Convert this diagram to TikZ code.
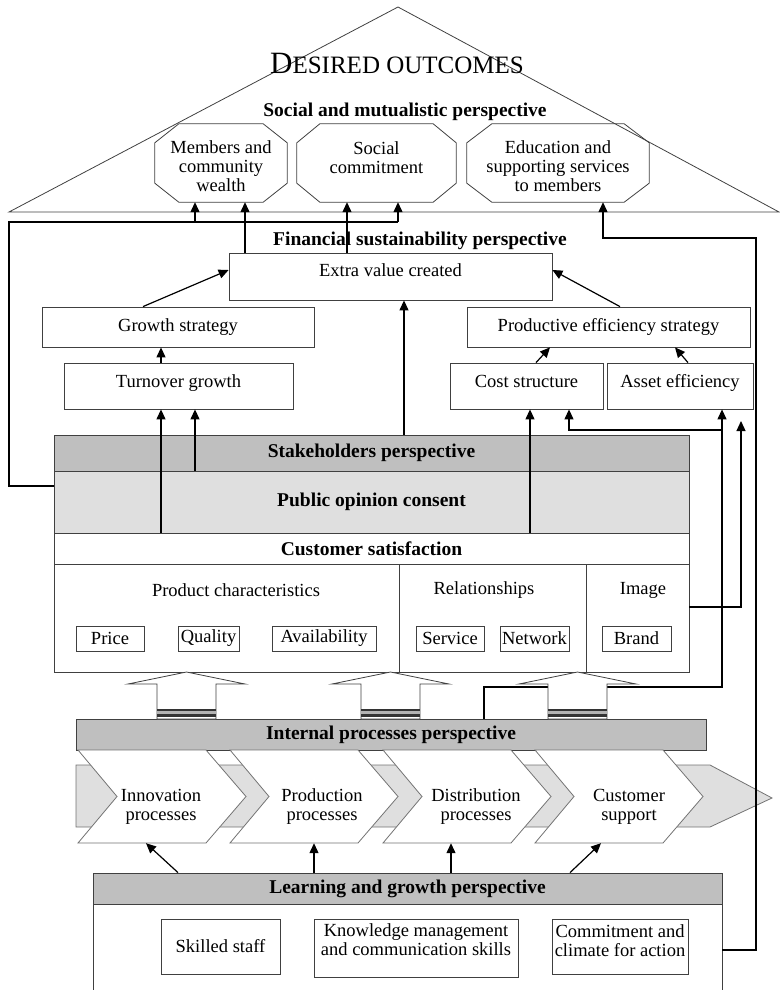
\documentclass[tikz,border=0pt]{standalone}
\usepackage{fontspec}
\setmainfont{Liberation Serif}
\usetikzlibrary{arrows.meta,calc}

% octagon round a named node, #2 = horizontal cut, #3 = vertical cut
\newcommand{\octa}[3]{%
  \draw[black!75,line width=0.8pt] ($(#1.north west)+(#2,0)$) -- ($(#1.north east)+(-#2,0)$)
    -- ($(#1.north east)+(0,#3)$) -- ($(#1.south east)+(0,-#3)$) -- ($(#1.south east)+(-#2,0)$)
    -- ($(#1.south west)+(#2,0)$) -- ($(#1.south west)+(0,-#3)$) -- ($(#1.north west)+(0,#3)$) -- cycle;}

\begin{document}
\begin{tikzpicture}[x=1pt,y=-1pt,
    every node/.style={font=\fontsize{18.5}{19}\selectfont},
    box/.style={draw=black!75,line width=0.8pt,fill=white,align=center,inner sep=1pt},
    hdr/.style={box,fill=gray!50,font=\fontsize{19.5}{19}\selectfont\bfseries},
    bold/.style={font=\fontsize{19.5}{19}\selectfont\bfseries},
    arr/.style={-{Triangle[length=10pt,width=9pt]},line width=1.2pt},
    wire/.style={line width=1.2pt},
    chev/.style={draw=black!55,line width=0.8pt,fill=white}]
\useasboundingbox (0,0) rectangle (779,990);

% roof
\draw[black!75,line width=0.8pt] (9,212) -- (398,7) -- (779,212) -- cycle;
\node (title) at (397,63) {\fontsize{31}{31}\selectfont D\fontsize{25}{25}\selectfont ESIRED OUTCOMES};
\node[bold] (smp) at (405,112) {Social and mutualistic perspective};

\node[inner sep=0pt,minimum width=132pt,minimum height=78pt] (mcw) at (221,163) {};
\node[inner sep=0pt,minimum width=159pt,minimum height=78pt] (sc) at (376.5,163) {};
\node[inner sep=0pt,minimum width=182pt,minimum height=78pt] (edu) at (558,163) {};
\octa{mcw}{24}{19}
\octa{sc}{23}{19}
\octa{edu}{25}{19}
\node[align=center] (mcwt) at ($(mcw)+(0,3)$) {Members and\\community\\wealth};
\node[align=center] (sct) at ($(sc)+(0,-5)$) {Social\\commitment};
\node[align=center] (edut) at ($(edu)+(0,3)$) {Education and\\supporting services\\to members};

% financial
\node[bold] (fsp) at (420,241) {Financial sustainability perspective};
\node[box,minimum width=323pt,minimum height=47pt,text height=12pt,text depth=12pt] (ev) at (390.5,276.5) {Extra value created};
\node[box,minimum width=272pt,minimum height=40pt] (gs) at (178,327) {Growth strategy};
\node[box,minimum width=283pt,minimum height=40pt] (pes) at (608.5,327) {Productive efficiency strategy};
\node[box,minimum width=229pt,minimum height=46pt,text height=12pt,text depth=10pt] (tg) at (178.5,386) {Turnover growth};
\node[box,minimum width=153pt,minimum height=46pt,text height=12pt,text depth=10pt] (cs) at (526.5,386) {Cost structure};
\node[box,minimum width=146pt,minimum height=46pt,text height=12pt,text depth=10pt] (ae) at (680,386) {Asset efficiency};

% stakeholders
\node[hdr,minimum width=635pt,minimum height=36pt] (sh) at (371.5,453) {Stakeholders perspective};
\node[hdr,fill=gray!25,minimum width=635pt,minimum height=62pt] (poc) at (371.5,502) {Public opinion consent};
\node[box,bold,minimum width=635pt,minimum height=31pt] (csat) at (371.5,548.5) {Customer satisfaction};
\node[box,minimum width=345pt,minimum height=108pt] (pc) at (226.5,618) {};
\node[box,minimum width=187pt,minimum height=108pt] (rel) at (492.5,618) {};
\node[box,minimum width=103pt,minimum height=108pt] (img) at (637.5,618) {};
\node (pcl) at (236,590) {Product characteristics};
\node (rell) at (484,590) {Relationships};
\node (imgl) at (643,590) {Image};
\node[box,minimum width=68pt,minimum height=25pt] (price) at (110,638.5) {Price};
\node[box,minimum width=61pt,minimum height=25pt] (qual) at (208.5,638.5) {Quality};
\node[box,minimum width=104pt,minimum height=25pt] (avail) at (324,638.5) {Availability};
\node[box,minimum width=68pt,minimum height=25pt] (serv) at (450,638.5) {Service};
\node[box,minimum width=69pt,minimum height=25pt] (net) at (534.5,638.5) {Network};
\node[box,minimum width=69pt,minimum height=25pt] (brand) at (636.5,638.5) {Brand};

% internal processes
\node[hdr,minimum width=630pt,minimum height=31pt] (ipp) at (391,734.5) {Internal processes perspective};
\coordinate (jn) at (722,430);
\draw[arr] (ipp.north -| 484,0) |- (722,687) -- (ae.south -| 722,0);
\draw[arr] (jn) -| (cs.south -| 569,0);
\foreach \c in {186.5,390.5,577.5} {
  \draw[black!75,line width=0.8pt,fill=white] (\c,672) -- (\c+58.5,684) -- (\c+29.5,684) -- (\c+29.5,719)
    -- (\c-29.5,719) -- (\c-29.5,684) -- (\c-58.5,684) -- cycle;
  \fill[black!80] (\c-29.5,709) rectangle (\c+29.5,717);
  \fill[gray!60] (\c-29.5,711) rectangle (\c+29.5,714);
}
\draw[black!55,fill=gray!25,line width=0.8pt] (76,765) -- (710,765) -- (772,798) -- (710,827) -- (76,827) -- cycle;
\foreach \l in {78,230,383,535}
  \draw[chev] (\l,750) -- (\l+128,750) -- (\l+168,796.5) -- (\l+128,843) -- (\l,843) -- (\l+39,796.5) -- cycle;
\node[align=center,minimum height=72pt] (inn) at (161,807) {Innovation\\processes};
\node[align=center,minimum height=72pt] (prod) at (322,807) {Production\\processes};
\node[align=center,minimum height=72pt] (dist) at (476,807) {Distribution\\processes};
\node[align=center,minimum height=72pt] (cust) at (629,807) {Customer\\support};

% learning and growth
\node[box,minimum width=629pt,minimum height=100pt] (lgb) at (407.5,954) {};
\node[hdr,minimum width=629pt,minimum height=31pt] (lgh) at (407.5,888.5) {Learning and growth perspective};
\node[box,minimum width=119pt,minimum height=55pt] (staff) at (220.5,946.5) {Skilled staff};
\node[box,minimum width=204pt,minimum height=58pt] (know) at (416,948) {};
\node[box,minimum width=136pt,minimum height=55pt] (clim) at (620,946.5) {};
\node[align=center] (knowt) at ($(know)+(0,-8)$) {Knowledge management\\and communication skills};
\node[align=center] (climt) at ($(clim)+(0,-6)$) {Commitment and\\climate for action};

% connectors
\coordinate (fl) at (398,222);
\draw[wire] (poc.west |- 0,486) -| (9,222) -- (fl);
\draw[arr] (fl -| 195,0) -- (mcw.south -| 195,0);
\draw[arr] (fl) -- (sc.south -| 398,0);
\draw[arr] (ev.north -| 245,0) -- (mcw.south -| 245,0);
\draw[arr] (ev.north -| 347,0) -- (sc.south -| 347,0);
\draw[arr] (lgb.east |- 0,950) -| (756,238) -| (edu.south -| 603,0);

\draw[arr] (gs.north -| 143,0) -- (ev.west |- 0,270);
\draw[arr] (pes.north -| 620,0) -- (ev.east |- 0,270);
\draw[arr] (tg.north -| 161,0) -- (gs.south -| 161,0);
\draw[arr] (cs.north -| 536,0) -- (pes.south -| 550,0);
\draw[arr] (ae.north -| 688,0) -- (pes.south -| 675,0);
\draw[arr] (sh.north -| 404,0) -- (ev.south -| 404,0);
\draw[arr] (csat.north -| 161,0) -- (tg.south -| 161,0);
\draw[arr] (poc.north -| 195,0) -- (tg.south -| 195,0);
\draw[arr] (csat.north -| 530,0) -- (cs.south -| 530,0);
\coordinate (free) at (741,421);
\draw[arr] (img.east |- 0,607) -| (free);

\draw[arr] (lgh.north -| 178,0) -- (inn.south -| 146,0);
\draw[arr] (lgh.north -| 314,0) -- (prod.south -| 314,0);
\draw[arr] (lgh.north -| 451,0) -- (dist.south -| 451,0);
\draw[arr] (lgh.north -| 570,0) -- (cust.south -| 601,0);
\end{tikzpicture}
\end{document}
